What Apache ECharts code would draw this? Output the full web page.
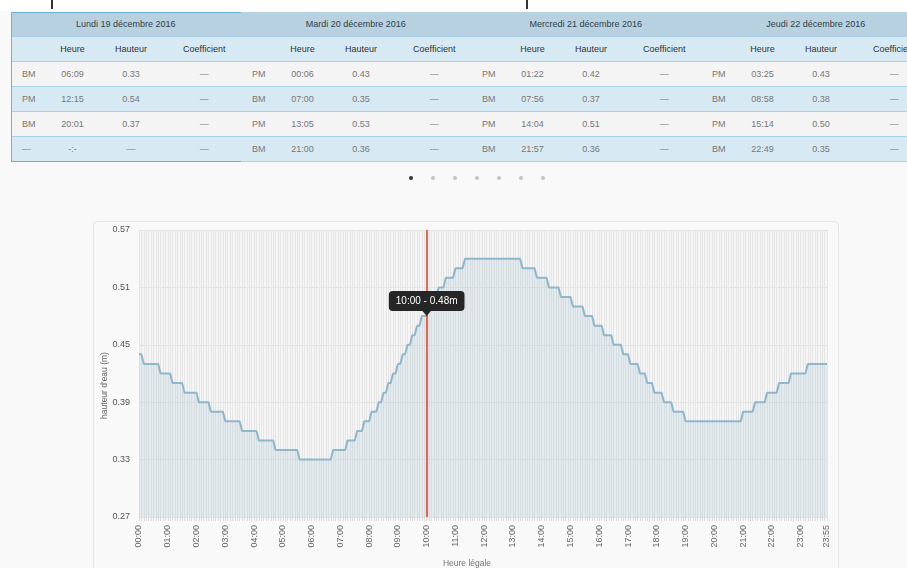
<!DOCTYPE html>
<html>
<head>
<meta charset="utf-8">
<script src="https://cdn.jsdelivr.net/npm/echarts@6/dist/echarts.min.js"></script>
<style>
  html, body { margin: 0; padding: 0; width: 907px; height: 568px; overflow: hidden; background: #f9f9f9; font-family: "Liberation Sans", Arial, sans-serif; }
  #topStrip { position: absolute; left: 0; top: 0; width: 907px; height: 11px; background: #fff; }
  .cut { position: absolute; top: 0; width: 2px; height: 9px; background: #333; }
  .day { position: absolute; top: 12px; width: 230px; border-collapse: collapse; table-layout: fixed; font-size: 9px; }
  .day td, .day th { height: 24px; padding: 0; border-bottom: 1px solid #a9d2e8; text-align: center; font-weight: normal; white-space: nowrap; overflow: hidden; }
  .day th.title { background: #b8d1e0; color: #2e3f4a; }
  .day tr.sub td { background: #d7e9f3; color: #333; }
  .day tr.odd td { background: #f4f4f4; color: #777; }
  .day tr.even td { background: #d7e9f3; color: #777; }
  .day td.kind { text-align: left; padding-left: 11px; }
  .day { border-right: 1px solid #a9d2e8; }
  .day.active { outline: 1px solid #6fb1d6; outline-offset: -1px; }
  #dots { position: absolute; left: 0; top: 176px; }
  .dot { position: absolute; width: 4px; height: 4px; border-radius: 2px; background: #c4c4c4; }
  .dot.on { background: #333; }
  #panel { position: absolute; left: 93px; top: 221px; width: 744px; height: 400px; border: 1px solid #e6e6e6; border-radius: 4px; background: #f9f9f9; }
  #chart { position: absolute; left: 0; top: 0; width: 907px; height: 568px; }
</style>
</head>
<body>
<div id="topStrip"></div>
<div class="cut" style="left:51px"></div>
<div class="cut" style="left:526px"></div>
<div id="tables"></div>
<div id="dots"></div>
<div id="panel"></div>
<div id="chart"></div>
<script>
// tide table (top)
const dayNames = ["Lundi 19 décembre 2016", "Mardi 20 décembre 2016", "Mercredi 21 décembre 2016", "Jeudi 22 décembre 2016"];
const colHeads = ["", "Heure", "Hauteur", "Coefficient"];
const dayTides = [
  [["BM", "06:09", "0.33", "—"], ["PM", "12:15", "0.54", "—"], ["BM", "20:01", "0.37", "—"], ["—", "-:-", "—", "—"]],
  [["PM", "00:06", "0.43", "—"], ["BM", "07:00", "0.35", "—"], ["PM", "13:05", "0.53", "—"], ["BM", "21:00", "0.36", "—"]],
  [["PM", "01:22", "0.42", "—"], ["BM", "07:56", "0.37", "—"], ["PM", "14:04", "0.51", "—"], ["BM", "21:57", "0.36", "—"]],
  [["PM", "03:25", "0.43", "—"], ["BM", "08:58", "0.38", "—"], ["PM", "15:14", "0.50", "—"], ["BM", "22:49", "0.35", "—"]]
];

// water height, 5-minute steps from 00:00, stored as runs of equal values
const stepLevels = [0.44, 0.43, 0.42, 0.41, 0.40, 0.39, 0.38, 0.37, 0.36, 0.35, 0.34, 0.33,
  0.34, 0.35, 0.36, 0.37, 0.38, 0.39, 0.40, 0.41, 0.42, 0.43, 0.44, 0.45, 0.46, 0.47, 0.48,
  0.49, 0.50, 0.51, 0.52, 0.53, 0.54, 0.53, 0.52, 0.51, 0.50, 0.49, 0.48, 0.47, 0.46, 0.45,
  0.44, 0.43, 0.42, 0.41, 0.40, 0.39, 0.38, 0.37, 0.38, 0.39, 0.40, 0.41, 0.42, 0.43];
const stepCounts = [2, 7, 5, 5, 6, 5, 6, 7, 7, 7, 10, 14,
  6, 4, 3, 3, 3, 2, 2, 2, 2, 2, 2, 2, 2, 2, 3,
  2, 2, 3, 4, 4, 24, 6, 5, 5, 5, 5, 4, 4, 4, 4,
  3, 4, 3, 3, 4, 4, 5, 24, 5, 5, 5, 5, 7, 9];
const hourLabels = ["00:00", "01:00", "02:00", "03:00", "04:00", "05:00", "06:00", "07:00", "08:00",
  "09:00", "10:00", "11:00", "12:00", "13:00", "14:00", "15:00", "16:00", "17:00", "18:00",
  "19:00", "20:00", "21:00", "22:00", "23:00", "23:55"];
const cursorTime = "10:00";

// build table
const tables = document.getElementById("tables");
dayNames.forEach((name, d) => {
  let html = '<colgroup><col style="width:40px"><col style="width:43px"><col style="width:74px"><col style="width:73px"></colgroup>';
  html += '<tr><th class="title" colspan="4">' + name + '</th></tr>';
  html += '<tr class="sub">' + colHeads.map(h => '<td>' + h + '</td>').join("") + '</tr>';
  dayTides[d].forEach((row, r) => {
    html += '<tr class="' + (r % 2 ? "even" : "odd") + '">' +
      row.map((c, i) => '<td' + (i === 0 ? ' class="kind"' : '') + '>' + c + '</td>').join("") + '</tr>';
  });
  const t = document.createElement("table");
  t.className = "day" + (d === 0 ? " active" : "");
  t.style.left = (11 + d * 230) + "px";
  t.innerHTML = html;
  tables.appendChild(t);
});

// carousel dots
const dots = document.getElementById("dots");
for (let i = 0; i < 7; i++) {
  const s = document.createElement("div");
  s.className = "dot" + (i === 0 ? " on" : "");
  s.style.left = (409 + i * 22) + "px";
  dots.appendChild(s);
}

// chart data
const times = [];
for (let h = 0; h < 24; h++) {
  for (let m = 0; m < 60; m += 5) {
    times.push(String(h).padStart(2, "0") + ":" + String(m).padStart(2, "0"));
  }
}
const heights = [];
stepLevels.forEach((v, i) => {
  for (let k = 0; k < stepCounts[i]; k++) heights.push(v);
});
const cursorValue = heights[times.indexOf(cursorTime)];

const chart = echarts.init(document.getElementById("chart"));

const option = {
  backgroundColor: "transparent",
  textStyle: { fontFamily: "Liberation Sans, Arial, sans-serif" },
  animation: false,
  grid: {
    left: 139, right: 80, top: 230, bottom: 51,
    show: true, backgroundColor: "#f5f5f5", borderWidth: 0,
    outerBoundsMode: "none"
  },
  xAxis: {
    type: "category",
    boundaryGap: false,
    data: times,
    name: "Heure légale",
    nameLocation: "middle",
    nameGap: 42,
    nameMoveOverlap: false,
    nameTextStyle: { fontSize: 8.5, color: "#777", padding: [0, 32, 0, 0] },
    axisLine: { show: true, lineStyle: { color: "#e0e0e0" } },
    axisTick: { show: true, interval: 0, length: 4, lineStyle: { color: "#dcdcdc" } },
    axisLabel: {
      rotate: 90,
      fontSize: 9,
      color: "#666",
      margin: 8,
      interval: (i, v) => hourLabels.includes(v)
    },
    splitLine: { show: true, interval: 0, lineStyle: { color: "#e6e6e6", width: 1 } }
  },
  yAxis: {
    type: "value",
    min: 0.27,
    max: 0.57,
    interval: 0.06,
    name: "hauteur d'eau (m)",
    nameLocation: "middle",
    nameRotate: 90,
    nameGap: 30,
    nameMoveOverlap: false,
    nameTextStyle: { fontSize: 8.5, color: "#666", padding: [0, 24, 0, 0] },
    axisLine: { show: false },
    axisTick: { show: false },
    axisLabel: { fontSize: 9, color: "#555", margin: 9, formatter: v => v.toFixed(2) },
    splitLine: { show: true, lineStyle: { color: "#e2e2e2" } }
  },
  series: [
    {
      name: "hauteur",
      type: "line",
      data: heights,
      showSymbol: false,
      lineStyle: { color: "#8fb6cb", width: 2 },
      itemStyle: { color: "#8fb6cb" },
      areaStyle: { color: "rgba(164,196,214,0.32)" },
      markLine: {
        silent: true,
        symbol: "none",
        label: { show: false },
        lineStyle: { color: "#e8391d", width: 1.5, type: "solid" },
        data: [{ xAxis: cursorTime }]
      },
      markPoint: {
        silent: true,
        symbol: "triangle",
        symbolSize: [10, 6],
        symbolRotate: 180,
        symbolOffset: [0, -3],
        itemStyle: { color: "#262626" },
        label: {
          show: true,
          position: "top",
          distance: -1,
          formatter: () => cursorTime + " - " + cursorValue.toFixed(2) + "m",
          backgroundColor: "#262626",
          borderRadius: 4,
          padding: [4, 7, 4, 7],
          color: "#fff",
          fontSize: 10,
          lineHeight: 12
        },
        data: [{ coord: [cursorTime, cursorValue], value: cursorValue }]
      }
    }
  ]
};

chart.setOption(option);
</script>
</body>
</html>
